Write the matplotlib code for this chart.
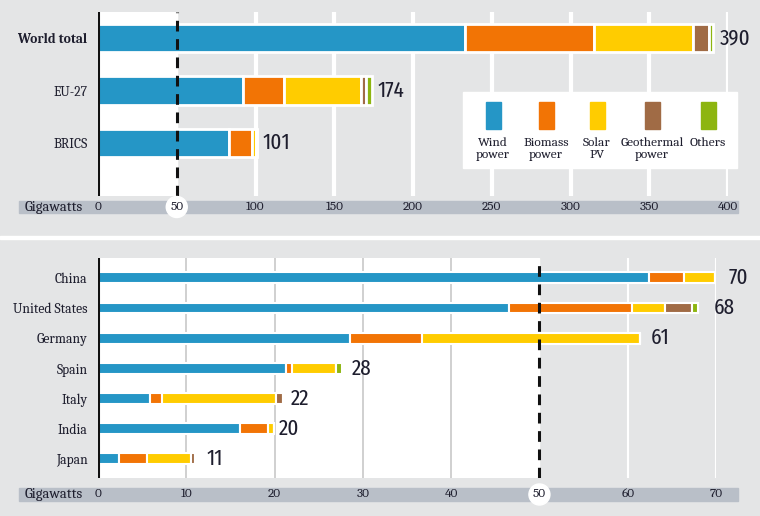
import numpy as np
import matplotlib.pyplot as plt
from matplotlib.patches import Rectangle, Ellipse

# ---- data ----
sources = ['Wind\npower', 'Biomass\npower', 'Solar\nPV', 'Geothermal\npower', 'Others']
colors = ['#2596c6', '#f27405', '#ffcc00', '#a06b45', '#8db510']

regions = ['World total', 'EU-27', 'BRICS']
reg_wind = [233, 92, 83]
reg_biomass = [82, 26, 14.5]
reg_solar = [63, 49, 3]
reg_geo = [10, 3, 0.5]
reg_others = [2.5, 4, 0]
reg_totals = [390, 174, 101]

countries = ['China', 'United States', 'Germany', 'Spain', 'Italy', 'India', 'Japan']
cty_wind = [62.4, 46.6, 28.5, 21.3, 5.9, 16.1, 2.4]
cty_biomass = [4.0, 13.9, 8.2, 0.7, 1.4, 3.2, 3.2]
cty_solar = [3.5, 3.7, 24.7, 5.0, 12.9, 0.6, 4.9]
cty_geo = [0, 3.1, 0, 0, 0.8, 0, 0.5]
cty_others = [0, 0.7, 0, 0.6, 0, 0, 0]
cty_totals = [70, 68, 61, 28, 22, 20, 11]

top_ticks = [0, 50, 100, 150, 200, 250, 300, 350, 400]
bot_ticks = [0, 10, 20, 30, 40, 50, 60, 70]

BG = '#e4e5e6'
BAND = '#b9bfc8'
TXT = '#1e1e2e'
SERIF = ['Caladea', 'Liberation Serif', 'DejaVu Serif']
NARROW = ['Fira Sans Extra Condensed', 'Roboto Condensed', 'DejaVu Sans']

W, H = 760, 516
fig = plt.figure(figsize=(7.6, 5.16), dpi=100, facecolor=BG)


def fx(px):
    return px / W


def fy(py):
    return 1 - py / H


def add_axes(x0, x1, y0, y1):
    ax = fig.add_axes([fx(x0), fy(y1), fx(x1) - fx(x0), (y1 - y0) / H])
    ax.set_facecolor(BG)
    for s in ax.spines.values():
        s.set_visible(False)
    ax.tick_params(left=False, bottom=False, labelbottom=False)
    return ax


def draw_stacked(ax, labels, series, totals, height, lw, offsets):
    y = np.arange(len(labels))
    left = np.zeros(len(labels))
    for vals, c in zip(series, colors):
        vals = np.array(vals, dtype=float)
        ax.barh(y, vals, left=left, height=height, color=c,
                edgecolor='white', linewidth=lw, zorder=3)
        left += vals
    for yi, tot, end, off in zip(y, totals, left, offsets):
        ax.annotate(str(tot), (end, yi), xytext=(off, 0), textcoords='offset points',
                    va='center', ha='left', fontsize=16.5, family=NARROW,
                    fontweight='normal', color=TXT, zorder=5)


def draw_band(y0, y1, ticks, x_of, circle_val):
    yc = (y0 + y1) / 2
    fig.patches.append(Rectangle((fx(19), fy(y1)), fx(738) - fx(19), (y1 - y0) / H,
                                 transform=fig.transFigure, color=BAND, zorder=0))
    fig.patches.append(Ellipse((fx(x_of(circle_val)), fy(yc)), 21 / W, 21 / H,
                               transform=fig.transFigure, color='white', zorder=1))
    fig.text(fx(25), fy(yc), 'Gigawatts', family=SERIF, fontsize=10.5,
             color=TXT, va='center', ha='left')
    for t in ticks:
        fig.text(fx(x_of(t)), fy(yc), str(t), family=SERIF, fontsize=9.5,
                 color=TXT, va='center', ha='center', zorder=3)


# ---------------- top panel ----------------
ax1 = add_axes(98, 728, 12, 196)
ax1.set_xlim(0, 400)
ax1.set_ylim(3.02, -0.5)
ax1.axvspan(0, 50, color='white', zorder=0)
for t in top_ticks[2:]:
    ax1.axvline(t, color='white', lw=3, zorder=1)
ax1.axvline(0, color='#111111', lw=2.2, zorder=4)
ax1.axvline(50, color='#111111', lw=2.2, ls=(0, (3.5, 2.5)), zorder=4)
draw_stacked(ax1, regions,
             [reg_wind, reg_biomass, reg_solar, reg_geo, reg_others],
             reg_totals, 0.54, 2, [5, 4, 4])
ax1.set_yticks(range(len(regions)))
ax1.set_yticklabels(regions, family=SERIF, fontsize=9.8, color=TXT)
ax1.get_yticklabels()[0].set_fontweight('bold')
ax1.tick_params(axis='y', pad=4)

# legend box
fig.patches.append(Rectangle((fx(463), fy(168)), fx(737) - fx(463), (168 - 92) / H,
                             transform=fig.transFigure, color='white', zorder=2))
leg_x = [493, 546, 597, 652, 708]
for px, c, lab in zip(leg_x, colors, sources):
    fig.patches.append(Rectangle((fx(px - 7.5), fy(129)), 15 / W, 27 / H,
                                 transform=fig.transFigure, color=c, zorder=3))
    fig.text(fx(px), fy(137), lab, family=SERIF, fontsize=9.5, color=TXT,
             ha='center', va='top', linespacing=1.0, zorder=4)

x_top = lambda v: 98 + v * (728 - 98) / 400
draw_band(201, 213, top_ticks, x_top, 50)

# separator
fig.patches.append(Rectangle((0, fy(239)), 1, 3 / H, transform=fig.transFigure,
                             color='white', zorder=0))

# ---------------- bottom panel ----------------
ax2 = add_axes(98, 716, 258, 478)
ax2.set_xlim(0, 70)
ax2.set_ylim(6.64, -0.66)
ax2.axvspan(0, 50, color='white', zorder=0)
for t in bot_ticks[1:5]:
    ax2.axvline(t, color='#c8c8c8', lw=1.2, zorder=1)
for t in bot_ticks[6:]:
    ax2.axvline(t, color='white', lw=1.5, zorder=1)
ax2.axvline(0, color='#111111', lw=2.2, zorder=4)
ax2.axvline(50, color='#111111', lw=2.2, ls=(0, (3.5, 2.5)), zorder=4)
draw_stacked(ax2, countries,
             [cty_wind, cty_biomass, cty_solar, cty_geo, cty_others],
             cty_totals, 0.36, 1.5, [10, 11, 8, 7, 5, 4, 8])
ax2.set_yticks(range(len(countries)))
ax2.set_yticklabels(countries, family=SERIF, fontsize=9.8, color=TXT)
ax2.tick_params(axis='y', pad=4)

x_bot = lambda v: 98 + v * (716 - 98) / 70
draw_band(488, 501, bot_ticks, x_bot, 50)

fig.savefig('out.png', dpi=100, facecolor=BG)
